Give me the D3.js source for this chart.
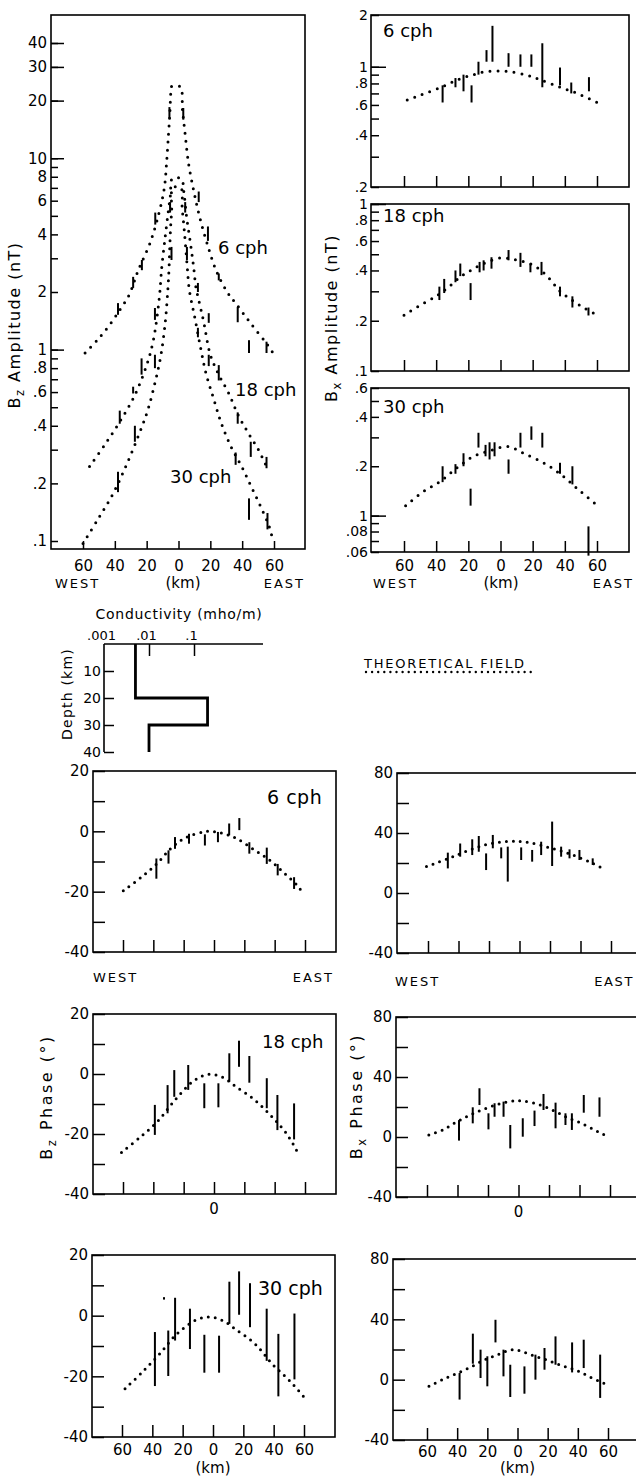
<!DOCTYPE html>
<html>
<head>
<meta charset="utf-8">
<script src="https://cdn.jsdelivr.net/npm/d3@7"></script>
<style>
  body { margin: 0; background: #fff; }
  svg text { font-family: "DejaVu Sans", "Liberation Sans", sans-serif; fill: #000; }
</style>
</head>
<body>
<svg id="fig" width="636" height="1477"></svg>
<script>
// ---------- horizontal distance (km), shared by every profile ----------
const kmTicks = [-60, -40, -20, 0, 20, 40, 60];
const kmTickLabels = ["60", "40", "20", "0", "20", "40", "60"];

// ---------- B_z amplitude (nT): model curves [km, nT] ----------
const bzAmpModel6 = [[-58.7,0.96],[-51.1,1.12],[-43.2,1.35],[-36.3,1.64],[-31,1.93],[-25.3,2.6],[-17.9,3.6],[-12.2,5.2],[-8.9,7.0],[-7.4,9.7],[-6.3,13.3],[-5.5,16.8],[-4.9,21.8],[-4.6,23.6],[1.1,23.6],[2.5,17.9],[4.2,13.3],[6.3,9.4],[9.5,6.8],[13.1,5.0],[17.9,3.6],[23.6,2.6],[30.6,2.0],[36.3,1.73],[45.4,1.37],[55.9,1.06],[60.8,0.92]];
const bzAmpModel18 = [[-55.9,0.245],[-46.4,0.318],[-36.9,0.42],[-27.8,0.57],[-20,0.83],[-15.8,1.12],[-12.2,1.82],[-10.5,2.7],[-8.5,3.8],[-6.5,5.2],[-5,6.5],[-4,7.8],[1.7,7.8],[3.5,6.5],[5,5.0],[7.5,3.6],[9.5,2.7],[11,2.1],[12.7,1.82],[15.8,1.40],[20,0.94],[25.3,0.74],[31.6,0.59],[37.5,0.455],[43.9,0.366],[50.2,0.30],[55.3,0.245]];
const bzAmpModel30 = [[-60,0.097],[-50.6,0.13],[-41.1,0.177],[-32.7,0.25],[-24.9,0.36],[-19.4,0.48],[-14.8,0.67],[-11.2,0.92],[-8.4,1.37],[-6.8,2.0],[-6,2.6],[-5.5,3.4],[-5,4.3],[-4.3,5.3],[-3.5,7.0],[1.5,7.0],[2.3,5.5],[3.3,4.5],[4.3,3.6],[5.5,2.7],[6.8,2.05],[10.1,1.49],[13.7,1.04],[17.3,0.75],[22.2,0.55],[27,0.41],[33.1,0.31],[39.7,0.245],[46,0.19],[51.7,0.151],[57,0.119],[59,0.103]];
// observed ranges [km, low, high]
const bzAmpObs6 = [[-38,1.52,1.75],[-28.5,2.1,2.4],[-23,2.6,2.94],[-14.6,4.5,5.2],[-5.7,16.2,18.5],[3,15.9,18.3],[12.7,5.9,6.7],[18.5,3.7,4.4],[25.3,2.3,2.5],[37.2,1.39,1.67],[44.3,0.96,1.12],[55.3,0.96,1.10]];
const bzAmpObs18 = [[-36.9,0.41,0.48],[-28.5,0.59,0.64],[-23.2,0.74,0.90],[-14.8,1.43,1.65],[-5.3,5.2,5.9],[4.2,5.2,5.9],[12.2,2.0,2.23],[19,1.38,1.55],[19,0.82,0.94],[25.3,0.69,0.83],[37.2,0.41,0.47],[45.4,0.275,0.33],[55.3,0.24,0.275]];
const bzAmpObs30 = [[-38,0.18,0.23],[-27.4,0.33,0.40],[-14.8,0.80,0.94],[-4.4,2.94,3.44],[5.3,2.94,3.44],[12.2,1.16,1.30],[35.9,0.25,0.29],[44.3,0.129,0.167],[55.9,0.115,0.14]];
const bzAmpLabelled = [40,30,20,10,8,6,4,2,1,0.8,0.6,0.4,0.2,0.1];
const bzAmpLabels = ["40","30","20","10","8","6","4","2","1",".8",".6",".4",".2",".1"];
const bzAmpLong = [40,30,20,10,1];
const bzAmpMinor = [9,7,5,3,0.9,0.7,0.5,0.3];

// ---------- B_x amplitude (nT) ----------
const bxAmpModel6 = [[-58,0.64],[-49.7,0.685],[-37,0.76],[-26.7,0.84],[-16.8,0.90],[-8,0.94],[4.3,0.94],[16.8,0.89],[24.8,0.84],[37,0.76],[47.8,0.70],[60,0.62]];
const bxAmpObs6 = [[-36,0.62,0.78],[-28,0.76,0.86],[-23,0.72,0.90],[-18,0.62,0.78],[-13.7,0.90,1.07],[-8.7,1.07,1.25],[-5,1.07,1.73],[5,1.0,1.2],[12.4,1.0,1.18],[19.2,1.0,1.18],[26,0.76,1.37],[37,0.78,0.99],[44,0.70,0.81],[55,0.72,0.87]];
const bxAmpModel18 = [[-60,0.216],[-47.6,0.255],[-39,0.285],[-32,0.32],[-25,0.366],[-18.6,0.40],[-10.5,0.44],[0,0.475],[10.5,0.46],[20.5,0.43],[29,0.37],[37,0.30],[43.5,0.27],[51.5,0.24],[61,0.214]];
const bxAmpObs18 = [[-38,0.266,0.32],[-35,0.293,0.356],[-28,0.34,0.40],[-25,0.37,0.44],[-18.6,0.266,0.336],[-13,0.39,0.45],[-10.5,0.40,0.46],[-5.6,0.41,0.48],[5,0.46,0.53],[12.4,0.42,0.51],[18.6,0.39,0.44],[25.5,0.375,0.45],[37,0.28,0.32],[44.7,0.24,0.28],[54.7,0.215,0.24]];
const bxAmpModel30 = [[-59,0.115],[-48,0.14],[-37,0.163],[-26.7,0.197],[-16.7,0.23],[-6,0.25],[4.3,0.264],[14.3,0.24],[26.7,0.21],[37,0.18],[47.8,0.146],[59,0.118]];
const bxAmpObs30 = [[-36,0.16,0.2],[-28,0.18,0.206],[-23,0.2,0.24],[-18.6,0.115,0.146],[-13.7,0.26,0.32],[-9.3,0.23,0.27],[-6.8,0.22,0.28],[-3.7,0.23,0.28],[5,0.18,0.22],[12.4,0.26,0.32],[19.2,0.29,0.35],[26,0.26,0.32],[37,0.18,0.21],[44.7,0.155,0.2],[54.7,0.057,0.086]];
const bxAmp6Labelled = [2,1,0.8,0.6,0.4,0.2];
const bxAmp6Labels = ["2","1",".8",".6",".4",".2"];
const bxAmp18Labelled = [1,0.8,0.6,0.4,0.2,0.1];
const bxAmp18Labels = ["1",".8",".6",".4",".2",".1"];
const bxAmp30Labelled = [0.6,0.4,0.2,0.1,0.08,0.06];
const bxAmp30Labels = [".6",".4",".2","1",".08",".06"];
const bxAmpMinorHigh = [0.9,0.7,0.5,0.3];
const bxAmpMinorLow = [0.5,0.3,0.09,0.07];

// ---------- conductivity model ----------
const condLayerTop = [0, 20, 30];
const condLayerBottom = [20, 30, 40];
const condValues = [0.005, 0.2, 0.01];
const condTicks = [0.001, 0.01, 0.1];
const condTickLabels = [".001", ".01", ".1"];
const depthTicks = [10, 20, 30, 40];

// ---------- phases (degrees) ----------
const bzPhaseModel6 = [[-59.8,-19.7],[-48.4,-15.4],[-37.8,-10.8],[-27.9,-5.4],[-18.5,-2.1],[-4.4,0],[5,-0.6],[15,-2.4],[27,-6.3],[37,-9.7],[45.8,-13.6],[55,-18],[59,-20.8]];
const bzPhaseObs6 = [[-38,-15.7,-9],[-30,-10.7,-6.3],[-25.7,-5.8,-1.9],[-16.5,-4.1,-0.8],[-6,-4.7,-1],[2.6,-3.6,-0.2],[10,-1.3,2.6],[16.7,0.4,4.4],[23.3,-7.4,-3.6],[34.8,-10.8,-5.4],[42,-14.6,-10.8],[52.8,-19.1,-15.2]];
const bxPhaseModel6 = [[-61,17.6],[-43.7,24.2],[-23,32],[-6.6,34.4],[4.4,34],[19.7,30.2],[35,25.3],[48,19.8],[54.6,16.4]];
const bxPhaseObs6 = [[-47,16.4,26.9],[-38.9,24.2,33],[-31,25.3,35.8],[-26.7,27.5,38],[-21.9,15.3,26.4],[-17.5,29.8,38.7],[-12,23.1,30.4],[-7.7,7.6,30.9],[1.1,22,30.4],[8.3,20.9,28.7],[14.2,25.3,34.2],[21.4,18,47.6],[27.3,24.2,30.9],[32.8,23.1,29.1],[39.3,22,28.7],[48,18.7,23.1]];

const bzPhaseModel18 = [[-61,-26.2],[-48.8,-21.1],[-37.4,-15.9],[-25.7,-8.7],[-13.2,-2.2],[-3.7,-0.1],[5.7,-1.1],[14.5,-4.2],[27,-8.7],[38.5,-14.4],[48.4,-20.3],[54.6,-25.6]];
const bzPhaseObs18 = [[-39,-20.3,-10.3],[-30.6,-13.1,-3.7],[-26.2,-7.6,1.3],[-17,-5.3,3],[-6.4,-11.4,-3.1],[2.9,-11.1,-3.1],[10.1,-2.6,6.9],[16.5,2.4,11.1],[23.3,-2.9,6],[34.8,-11.4,-1.4],[41.8,-18.7,-7],[52.8,-21.8,-9.8]];
const bxPhaseModel18 = [[-58.8,1.3],[-49.6,4.7],[-40.4,10.2],[-31.7,14.7],[-23,18.4],[-12.9,22],[-3.3,24],[2.4,24],[12.7,21.8],[23,17.6],[31.7,13.1],[42.2,8.7],[52,3.6],[56.4,1.3]];
const bxPhaseObs18 = [[-39,-2.4,11.3],[-30,9.1,19.8],[-25.6,21.3,32.5],[-19.7,5.1,15.8],[-15.7,13.5,22.5],[-9.8,13.5,23.6],[-5.4,-7.6,8],[2.8,0.2,12.5],[10.5,7.3,17.6],[16.4,18,28.7],[24.3,5.8,22.9],[30.8,8,15.8],[35,4.7,15.8],[42.8,16.2,28],[53.1,13.5,26.4]];

const bzPhaseModel30 = [[-58,-24.1],[-47,-18.8],[-35.4,-12.7],[-24.4,-6.3],[-11.9,-1.6],[-3.1,-0.4],[6.4,-1.6],[15.2,-4.6],[27.7,-9.3],[39.2,-16],[50.8,-21.6],[59.6,-26.6]];
const bzPhaseObs30 = [[-38.3,-23.2,-5.4],[-29.5,-19.9,-4.9],[-25,-8.2,5.9],[-15.2,-11,2.3],[-5.7,-18.8,-6.3],[4,-18.8,-6.6],[10.8,-2.7,11.2],[17.2,0.3,14.6],[24.4,-3.8,10.7],[35.4,-14.9,2.3],[43.1,-26.6,-6],[53.7,-21,0.7],[-32.3,5.3,6.1]];
const bxPhaseModel30 = [[-58.7,-4.4],[-49.9,0],[-40.6,4],[-31.3,8.2],[-22.5,12.8],[-13,16.6],[-3.5,19.9],[1.3,19.2],[10.6,15.9],[20,12.8],[29.6,9.3],[39.3,6],[48.1,1.8],[57.6,-2.6]];
const bxPhaseObs30 = [[-38.4,-13.2,4.4],[-29.6,10.6,30.5],[-24.5,1.1,19.9],[-20,-4.4,15.5],[-14.6,24.7,39.7],[-9.3,2.2,19.9],[-4.8,-11.5,9.9],[4.6,-9.3,8.8],[11.9,0,16.6],[17.9,6.6,21],[25.2,9.9,28.7],[36.2,4.8,24.7],[43.9,7.7,26.5],[54.8,-12.1,16.6]];

const bzPhaseLabelled = [20, 0, -20, -40];
const bzPhaseMinor = [10, -10, -30];
const bxPhaseLabelled = [80, 40, 0, -40];
const bxPhaseMinor = [60, 20, -20];

// ===================== drawing =====================
const svg = d3.select("#fig");

function frame(x0, y0, x1, y1) {
  svg.append("rect").attr("x", x0).attr("y", y0).attr("width", x1 - x0).attr("height", y1 - y0)
    .attr("fill", "none").attr("stroke", "#000").attr("stroke-width", 1.6);
}

function cleanAxis(g, fs) {
  g.attr("font-family", null).attr("font-size", null);
  g.select(".domain").remove();
  g.selectAll(".tick line").attr("stroke", "#000").attr("stroke-width", 1.5);
  g.selectAll(".tick text").attr("font-size", fs).attr("fill", "#000");
}

// left axis with ticks pointing into the panel
function leftTicks(x, scale, values, labels, len, fs, pad) {
  const g = svg.append("g").attr("transform", `translate(${x},0)`)
    .call(d3.axisLeft(scale).tickValues(values).tickSizeInner(-len).tickSizeOuter(0)
      .tickPadding(pad || 4).tickFormat(labels ? (d, i) => labels[i] : ""));
  cleanAxis(g, fs);
  return g;
}

// bottom axis with ticks pointing up into the panel
function bottomTicks(y, scale, len, labels, fs, pad) {
  const g = svg.append("g").attr("transform", `translate(0,${y})`)
    .call(d3.axisBottom(scale).tickValues(kmTicks).tickSizeInner(-len).tickSizeOuter(0)
      .tickPadding(pad || 6).tickFormat(labels ? (d, i) => labels[i] : ""));
  cleanAxis(g, fs);
  return g;
}

function dotted(data, xs, ys, gap, w) {
  svg.append("path").datum(data)
    .attr("d", d3.line().x(d => xs(d[0])).y(d => ys(d[1])).curve(d3.curveCatmullRom.alpha(0.5)))
    .attr("fill", "none").attr("stroke", "#000").attr("stroke-width", w || 3)
    .attr("stroke-linecap", "round").attr("stroke-dasharray", `0 ${gap}`);
}

function ranges(data, xs, ys) {
  svg.append("g").selectAll("line").data(data).join("line")
    .attr("x1", d => xs(d[0])).attr("x2", d => xs(d[0]))
    .attr("y1", d => ys(d[1])).attr("y2", d => ys(d[2]))
    .attr("stroke", "#000").attr("stroke-width", 2);
}

function label(x, y, txt, fs, anchor, ls) {
  svg.append("text").attr("x", x).attr("y", y).attr("dy", "0.35em")
    .attr("text-anchor", anchor || "start").attr("font-size", fs)
    .attr("letter-spacing", ls || 0).text(txt);
}

function rotTitle(x, y, main, sub, rest, fs, ls) {
  const t = svg.append("text").attr("transform", `translate(${x},${y}) rotate(-90)`)
    .attr("text-anchor", "middle").attr("font-size", fs).attr("letter-spacing", ls || 0);
  t.append("tspan").text(main);
  if (sub) {
    t.append("tspan").attr("font-size", fs * 0.72).attr("dy", 4).text(sub);
    t.append("tspan").attr("dy", -4).text(rest);
  }
}

// ---------- B_z amplitude panel ----------
{
  const xs = d3.scaleLinear().domain([-60, 60]).range([83, 274]);
  const ys = d3.scaleLog().domain([0.1, 40]).range([541, 43]);
  frame(51, 15, 305, 549);
  leftTicks(51, ys, bzAmpLabelled, bzAmpLabels, 7, 15, 4);
  leftTicks(51, ys, bzAmpLong, null, 13, 15);
  leftTicks(51, ys, bzAmpMinor, null, 7, 15);
  bottomTicks(549, xs, 8, kmTickLabels, 15, 11);
  dotted(bzAmpModel6, xs, ys, 8);
  dotted(bzAmpModel18, xs, ys, 8);
  dotted(bzAmpModel30, xs, ys, 8);
  ranges(bzAmpObs6, xs, ys);
  ranges(bzAmpObs18, xs, ys);
  ranges(bzAmpObs30, xs, ys);
  label(218, 248, "6 cph", 18);
  label(235, 390, "18 cph", 18);
  label(170, 477, "30 cph", 18);
  label(55, 583, "WEST", 13, "start", 2);
  label(183, 583, "(km)", 15, "middle");
  label(305, 583, "EAST", 13, "end", 2);
  rotTitle(20, 325, "B", "z", " Amplitude (nT)", 16, 1.5);
}

// ---------- B_x amplitude panels ----------
{
  const xs = d3.scaleLinear().domain([-60, 60]).range([404, 597]);
  const panels = [
    { top: 15, bottom: 187, dom: [0.2, 2], lab: bxAmp6Labelled, txt: bxAmp6Labels, minor: bxAmpMinorHigh, long: [1],
      model: bxAmpModel6, obs: bxAmpObs6, name: "6 cph", ly: 31 },
    { top: 204, bottom: 371, dom: [0.1, 1], lab: bxAmp18Labelled, txt: bxAmp18Labels, minor: bxAmpMinorHigh, long: [1],
      model: bxAmpModel18, obs: bxAmpObs18, name: "18 cph", ly: 216 },
    { top: 388, bottom: 552, dom: [0.06, 0.6], lab: bxAmp30Labelled, txt: bxAmp30Labels, minor: bxAmpMinorLow, long: [0.1],
      model: bxAmpModel30, obs: bxAmpObs30, name: "30 cph", ly: 407 }
  ];
  panels.forEach((p, i) => {
    const ys = d3.scaleLog().domain(p.dom).range([p.bottom, p.top]);
    frame(371, p.top, 629, p.bottom);
    leftTicks(371, ys, p.lab, p.txt, 8, 14, 3);
    leftTicks(371, ys, p.long, null, 15, 14);
    leftTicks(371, ys, p.minor, null, 8, 14);
    bottomTicks(p.bottom, xs, 11, i === 2 ? kmTickLabels : null, 15, 8);
    dotted(p.model, xs, ys, 8);
    ranges(p.obs, xs, ys);
    label(383, p.ly, p.name, 18);
  });
  label(373, 583, "WEST", 13, "start", 2);
  label(501, 583, "(km)", 15, "middle");
  label(634, 583, "EAST", 13, "end", 2);
  rotTitle(337, 318, "B", "x", " Amplitude (nT)", 16, 1.5);
}

// ---------- conductivity-depth model ----------
{
  const xs = d3.scaleLog().domain([0.001, 1]).range([104, 239]);
  const ys = d3.scaleLinear().domain([0, 40]).range([644, 752]);
  svg.append("line").attr("x1", 104).attr("x2", 263).attr("y1", 644).attr("y2", 644)
    .attr("stroke", "#000").attr("stroke-width", 1.6);
  svg.append("line").attr("x1", 104).attr("x2", 104).attr("y1", 644).attr("y2", 752)
    .attr("stroke", "#000").attr("stroke-width", 1.6);
  const gTop = svg.append("g").attr("transform", "translate(0,644)")
    .call(d3.axisTop(xs).tickValues(condTicks).tickSizeInner(-12).tickSizeOuter(0).tickPadding(4)
      .tickFormat((d, i) => condTickLabels[i]));
  cleanAxis(gTop, 13);
  gTop.selectAll(".tick text").attr("dx", -3);
  gTop.selectAll(".tick").filter(d => d === 0.001).select("line").remove();
  const gLeft = svg.append("g").attr("transform", "translate(104,0)")
    .call(d3.axisLeft(ys).tickValues(depthTicks).tickSizeInner(-10).tickSizeOuter(0).tickPadding(3));
  cleanAxis(gLeft, 14);
  const pts = [];
  condValues.forEach((v, i) => { pts.push([v, condLayerTop[i]]); pts.push([v, condLayerBottom[i]]); });
  svg.append("path").datum(pts)
    .attr("d", d3.line().x(d => xs(d[0])).y(d => ys(d[1])))
    .attr("fill", "none").attr("stroke", "#000").attr("stroke-width", 2.8);
  label(179, 614, "Conductivity (mho/m)", 14, "middle", 0.7);
  rotTitle(72, 694, "Depth (km)", null, null, 14, 1.2);
}

// ---------- legend ----------
label(364, 663, "THEORETICAL FIELD", 13, "start", 1.8);
svg.append("line").attr("x1", 366).attr("x2", 536).attr("y1", 672).attr("y2", 672)
  .attr("stroke", "#000").attr("stroke-width", 2.4).attr("stroke-linecap", "round")
  .attr("stroke-dasharray", "0 6.1");

// ---------- phase panels ----------
function phasePanel(o) {
  const xs = d3.scaleLinear().domain([-60, 60]).range(o.xr);
  const ys = d3.scaleLinear().domain(o.dom).range([o.bottom, o.top]);
  frame(o.left, o.top, o.right, o.bottom);
  leftTicks(o.left, ys, o.lab, o.lab.map(String), 12, 15, 4);
  leftTicks(o.left, ys, o.minor, null, 12, 15);
  bottomTicks(o.bottom, xs, 12, o.kmLabels ? kmTickLabels : null, 15, o.pad || 7);
  dotted(o.model, xs, ys, 7, 3);
  ranges(o.obs, xs, ys);
  return xs;
}

// 6 cph
phasePanel({ left: 93, right: 336, top: 771, bottom: 952, xr: [123, 305], dom: [-40, 20],
  lab: bzPhaseLabelled, minor: bzPhaseMinor, model: bzPhaseModel6, obs: bzPhaseObs6 });
label(267, 797, "6 cph", 19, "start", 0.5);
label(93, 977, "WEST", 13, "start", 2);
label(334, 977, "EAST", 13, "end", 2);

phasePanel({ left: 397, right: 660, top: 773, bottom: 953, xr: [428, 611], dom: [-40, 80],
  lab: bxPhaseLabelled, minor: bxPhaseMinor, model: bxPhaseModel6, obs: bxPhaseObs6 });
label(395, 981, "WEST", 13, "start", 2);
label(634, 981, "EAST", 13, "end", 1.6);

// 18 cph
const xs18z = phasePanel({ left: 93, right: 336, top: 1014, bottom: 1194, xr: [123, 305], dom: [-40, 20],
  lab: bzPhaseLabelled, minor: bzPhaseMinor, model: bzPhaseModel18, obs: bzPhaseObs18 });
label(262, 1042, "18 cph", 18);
label(xs18z(0), 1209, "0", 15, "middle");
rotTitle(52, 1097, "B", "z", " Phase (°)", 16, 2.5);

const xs18x = phasePanel({ left: 396, right: 660, top: 1017, bottom: 1197, xr: [427, 610], dom: [-40, 80],
  lab: bxPhaseLabelled, minor: bxPhaseMinor, model: bxPhaseModel18, obs: bxPhaseObs18 });
label(xs18x(0), 1212, "0", 15, "middle");
rotTitle(362, 1096, "B", "x", " Phase (°)", 16, 2.5);

// 30 cph
const xs30z = phasePanel({ left: 92, right: 335, top: 1255, bottom: 1437, xr: [122, 304], dom: [-40, 20],
  lab: bzPhaseLabelled, minor: bzPhaseMinor, model: bzPhaseModel30, obs: bzPhaseObs30, kmLabels: true, pad: 7 });
label(258, 1288, "30 cph", 19);
label(xs30z(0), 1468, "(km)", 15, "middle");

const xs30x = phasePanel({ left: 393, right: 660, top: 1259, bottom: 1440, xr: [427, 608], dom: [-40, 80],
  lab: bxPhaseLabelled, minor: bxPhaseMinor, model: bxPhaseModel30, obs: bxPhaseObs30, kmLabels: true, pad: 6 });
label(xs30x(0), 1468, "(km)", 15, "middle");
</script>
</body>
</html>
